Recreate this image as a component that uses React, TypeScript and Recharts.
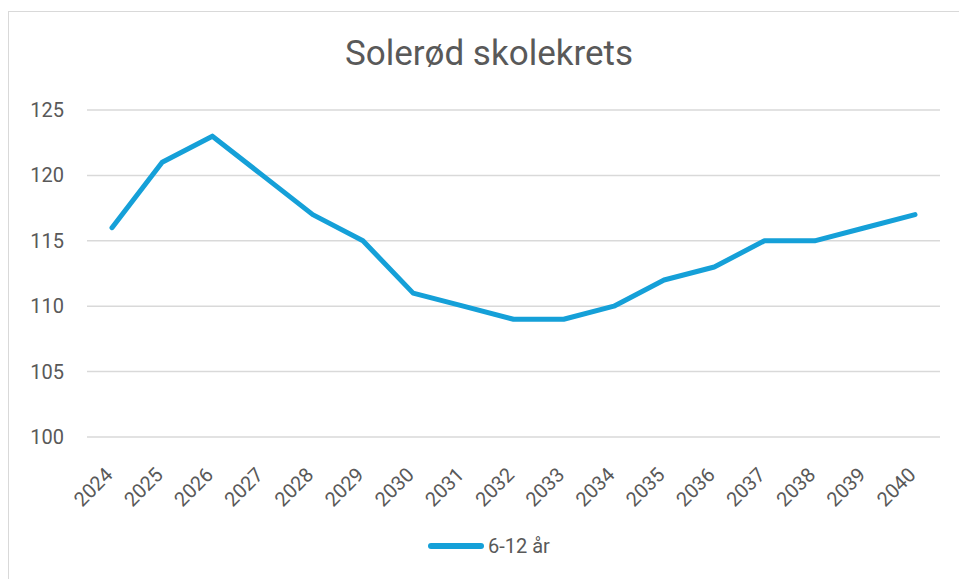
import React from "react";
import { LineChart, Line, XAxis, YAxis, CartesianGrid } from "recharts";

const years = ["2024","2025","2026","2027","2028","2029","2030","2031","2032","2033","2034","2035","2036","2037","2038","2039","2040"];
const values = [116,121,123,120,117,115,111,110,109,109,110,112,113,115,115,116,117];
const yTicks = [100,105,110,115,120,125];
const seriesName = "6-12 år";
const title = "Solerød skolekrets";

const data = years.map((y, i) => ({ year: y, v: values[i] }));

const FONT = "Roboto, 'Liberation Sans', sans-serif";
const COLOR = "#15A0D8";

const XTick = (props: any) => {
  const { x, y, payload } = props;
  const px = x + 2;
  const py = y + 31;
  return (
    <text x={px} y={py} transform={`rotate(-45, ${px}, ${py})`} textAnchor="end" fill="#595959" fontSize={20} fontFamily={FONT}>
      {payload.value}
    </text>
  );
};

const YTick = (props: any) => {
  const { y, payload } = props;
  return (
    <text x={64} y={y} dy={7} textAnchor="end" fill="#595959" fontSize={20} fontFamily={FONT}>
      {payload.value}
    </text>
  );
};

export default function App() {
  return (
    <div style={{ position: "absolute", left: 0, top: 0, width: 959, height: 579, background: "#fff", overflow: "hidden" }}>
      <div style={{ position: "absolute", left: 8, top: 11, width: 1000, height: 700, border: "1.5px solid #d9d9d9", boxSizing: "border-box" }} />
      <div style={{ position: "absolute", left: 0, top: 33, width: 978, textAlign: "center", fontSize: 35, lineHeight: "41px", color: "#595959", fontFamily: FONT }}>
        {title}
      </div>
      <div style={{ position: "absolute", left: 0, top: 0 }}>
        <LineChart width={959} height={579} data={data} margin={{ top: 110, right: 19, bottom: 62, left: 0 }}>
          <CartesianGrid vertical={false} stroke="#d9d9d9" strokeWidth={1.5} />
          <XAxis dataKey="year" axisLine={false} tickLine={false} tick={<XTick />} height={80} interval={0} padding={{ left: 25, right: 25 }} />
          <YAxis domain={[100, 125]} ticks={yTicks} axisLine={false} tickLine={false} tick={<YTick />} width={87} />
          <Line type="linear" dataKey="v" stroke={COLOR} strokeWidth={5} dot={false} isAnimationActive={false} strokeLinejoin="round" strokeLinecap="round" />
        </LineChart>
      </div>
      <div style={{ position: "absolute", left: 428, top: 534, display: "flex", alignItems: "center", fontFamily: FONT, fontSize: 20, color: "#595959" }}>
        <div style={{ width: 56, height: 6, borderRadius: 3, background: COLOR, marginRight: 4 }} />
        <span>{seriesName}</span>
      </div>
    </div>
  );
}
